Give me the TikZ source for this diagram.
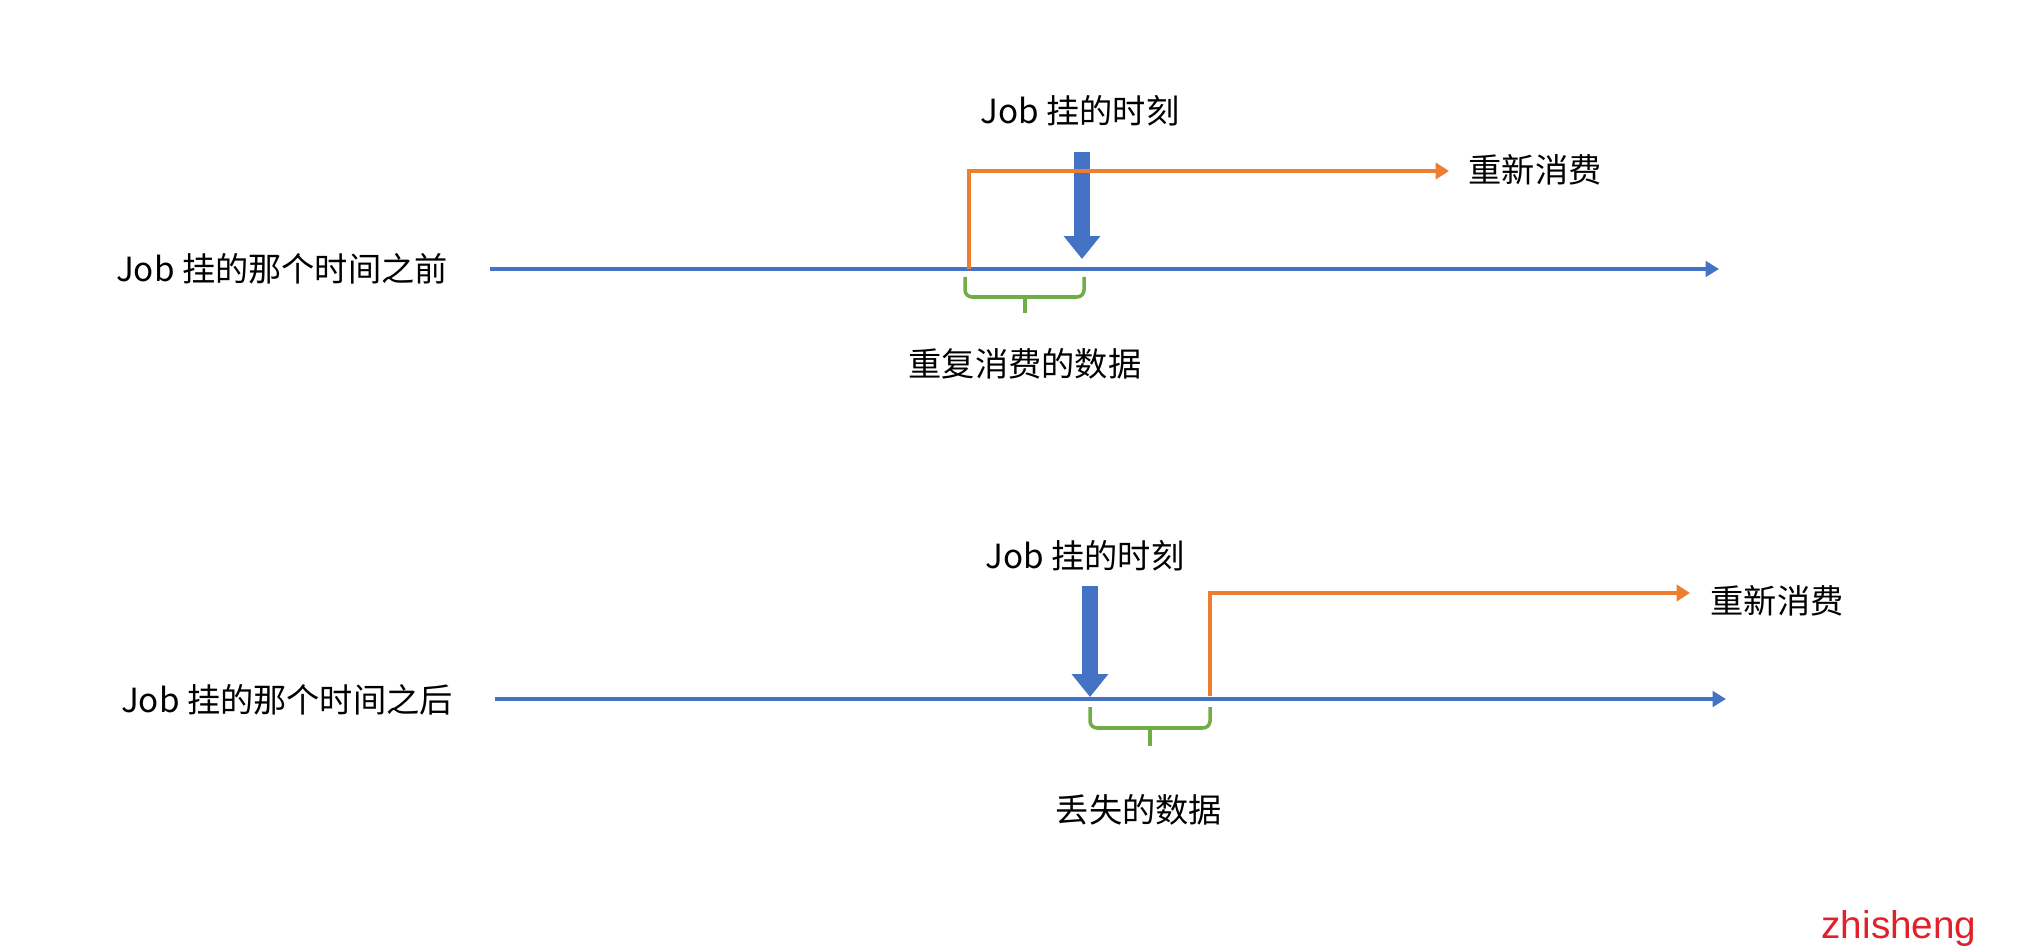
\documentclass[tikz,border=0pt]{standalone}
\usepackage{fontspec}
\setmainfont{Noto Sans CJK SC}
\newfontfamily\marksans{Liberation Sans}
\usetikzlibrary{arrows.meta, positioning}
\definecolor{axisblue}{HTML}{4472C4}
\definecolor{restartorange}{HTML}{ED7D31}
\definecolor{bracegreen}{HTML}{70AD47}
\definecolor{markred}{HTML}{E0202A}
\tikzset{
  timeline/.style={
    draw=axisblue,
    line width=0.9pt,
    -{Triangle[length=3.8pt, width=4.4pt]}
  },
  crash/.style={
    draw=axisblue,
    line width=4.6pt,
    -{Triangle[length=6.5pt, width=10pt]}
  },
  restart/.style={
    draw=restartorange,
    line width=0.9pt,
    -{Triangle[length=3.8pt, width=4.6pt]}
  },
  span/.style={
    draw=bracegreen,
    line width=1pt,
    rounded corners=2pt
  },
  lbl/.style={
    font=\fontsize{9.45}{11}\selectfont,
    inner sep=0pt
  }
}

\begin{document}
\begin{tikzpicture}[x=0.01cm, y=-0.01cm]
\useasboundingbox (0,0) rectangle (2018,952);

% before the crash
\node[lbl] (before) at (282,269) {Job 挂的那个时间之前};
\coordinate (ax1s) at (490,269);
\coordinate (ax1e) at (1719,269);
\draw[timeline] (ax1s) -- (ax1e);
\node[lbl] (t1) at (1080,111) {Job 挂的时刻};
\coordinate (c1top) at (1082,152);
\coordinate (c1tip) at (1082,259);
\draw[crash] (c1top) -- (c1tip);
\coordinate (r1s) at (969,269);
\coordinate (r1tip) at (1449,171);
\node[lbl, anchor=west] (r1) at (1468,170) {重新消费};
\draw[restart] (r1s) |- (r1tip);
\coordinate (b1l) at (965,277);
\coordinate (b1r) at (1084,277);
\coordinate (b1m) at (1025,297);
\draw[span] (b1l) |- (b1m) -| (b1r);
\draw[span] (b1m) -- ++(0,16);
\node[lbl] (dup) at (1025,364) {重复消费的数据};

% after the crash
\node[lbl] (after) at (287,700) {Job 挂的那个时间之后};
\coordinate (ax2s) at (495,699);
\coordinate (ax2e) at (1726,699);
\draw[timeline] (ax2s) -- (ax2e);
\node[lbl] (t2) at (1085,556) {Job 挂的时刻};
\coordinate (c2top) at (1090,586);
\coordinate (c2tip) at (1090,697);
\draw[crash] (c2top) -- (c2tip);
\coordinate (r2s) at (1210,696);
\coordinate (r2tip) at (1690,593);
\node[lbl, anchor=west] (r2) at (1710,601) {重新消费};
\draw[restart] (r2s) |- (r2tip);
\coordinate (b2l) at (1090,707);
\coordinate (b2r) at (1210,707);
\coordinate (b2m) at (1150,728);
\draw[span] (b2l) |- (b2m) -| (b2r);
\draw[span] (b2m) -- ++(0,18);
\node[lbl] (lost) at (1139,810) {丢失的数据};

\node[font=\marksans\fontsize{11}{13}\selectfont, text=markred, inner sep=0pt] (mark) at (1899,928) {zhisheng};
\end{tikzpicture}
\end{document}
